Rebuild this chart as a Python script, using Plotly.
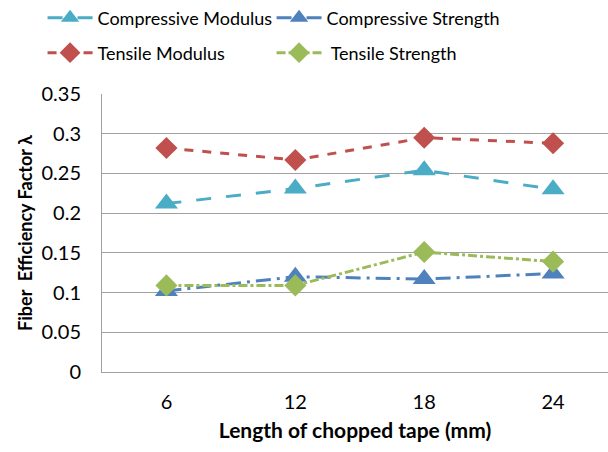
import plotly.graph_objects as go

categories = ["6", "12", "18", "24"]
compressive_modulus = [0.212, 0.231, 0.254, 0.230]
compressive_strength = [0.102, 0.120, 0.117, 0.124]
tensile_modulus = [0.282, 0.267, 0.295, 0.288]
tensile_strength = [0.109, 0.109, 0.151, 0.139]

xpos = list(range(len(categories)))

fig = go.Figure()
series = [
    ("Compressive Modulus", compressive_modulus, "#4BACC6", "longdash", "triangle-up", 20, "legend"),
    ("Compressive Strength", compressive_strength, "#4F81BD", "longdashdot", "triangle-up", 20, "legend"),
    ("Tensile Modulus", tensile_modulus, "#C0504D", "dash", "diamond", 17, "legend2"),
    (" Tensile Strength", tensile_strength, "#9BBB59", "dashdot", "diamond", 17, "legend2"),
]
for name, vals, col, dash, sym, size, lg in series:
    fig.add_trace(go.Scatter(
        x=xpos, y=vals, name=name, mode="lines+markers",
        line=dict(color=col, width=3, dash=dash),
        marker=dict(symbol=sym, size=size, color=col),
        legend=lg,
    ))

font = "Lato, 'Open Sans', sans-serif"
leg_common = dict(
    orientation="h", xref="container", yref="container",
    x=0.070, xanchor="left", yanchor="middle",
    entrywidth=169, entrywidthmode="pixels", itemwidth=45,
    font=dict(size=18), bgcolor="rgba(0,0,0,0)",
)
fig.update_layout(
    width=608, height=452,
    margin=dict(l=102, r=0, t=94, b=80, autoexpand=False),
    paper_bgcolor="white", plot_bgcolor="white",
    font=dict(family=font, size=20, color="black"),
    showlegend=True,
    legend=dict(y=1 - 18 / 452, **leg_common),
    legend2=dict(y=1 - 53 / 452, **leg_common),
    xaxis=dict(
        tickmode="array", tickvals=xpos, ticktext=categories,
        range=[-0.5, 3.426], showgrid=False, zeroline=False,
        showline=True, linecolor="#A0A0A0", linewidth=1,
        ticks="", ticklen=0, ticklabelstandoff=12,
        title=dict(text="<b>Length of chopped tape (mm)</b>", font=dict(size=21), standoff=11),
    ),
    yaxis=dict(
        range=[0, 0.35], showgrid=True,
        gridcolor="#A0A0A0", gridwidth=1, zeroline=False,
        showline=True, linecolor="#A0A0A0", linewidth=1,
        ticks="", ticklabelstandoff=16,
        tickvals=[0, 0.05, 0.1, 0.15, 0.2, 0.25, 0.3, 0.35],
        ticktext=["0", "0.05", "0.1", "0.15", "0.2", "0.25", "0.3", "0.35"],
        title=dict(text="<b>Fiber  Efficiency Factor λ</b>", font=dict(size=18), standoff=4),
    ),
)
fig.write_html("out.html")
